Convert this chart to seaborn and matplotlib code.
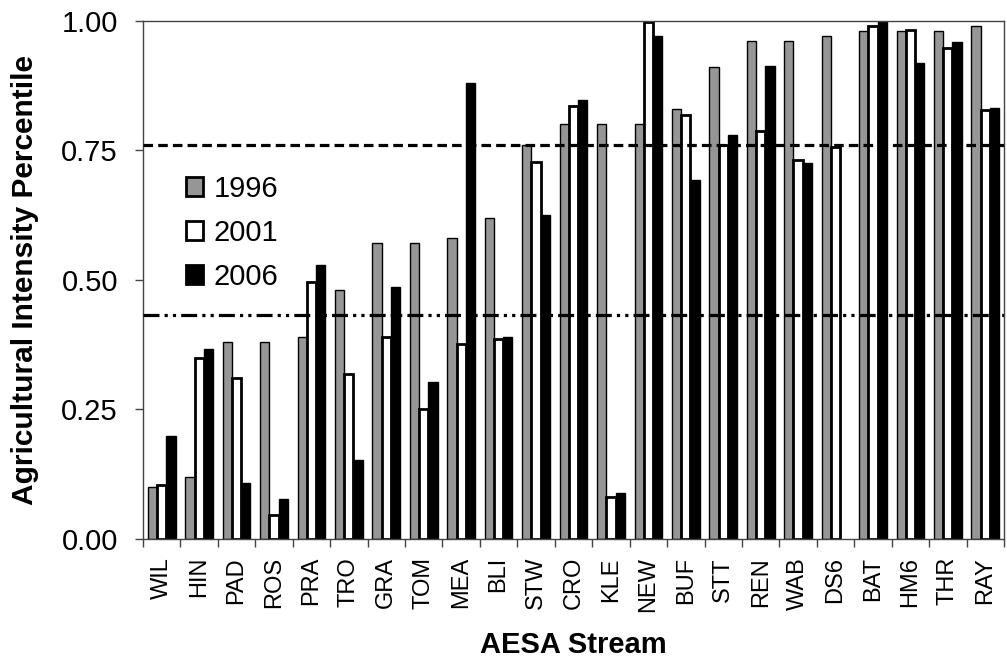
import pandas as pd
import seaborn as sns
import numpy as np
import matplotlib.pyplot as plt
from matplotlib.ticker import FixedLocator

streams = ['WIL', 'HIN', 'PAD', 'ROS', 'PRA', 'TRO', 'GRA', 'TOM', 'MEA', 'BLI', 'STW', 'CRO',
           'KLE', 'NEW', 'BUF', 'STT', 'REN', 'WAB', 'DS6', 'BAT', 'HM6', 'THR', 'RAY']
y1996 = [0.10, 0.12, 0.38, 0.38, 0.39, 0.48, 0.57, 0.57, 0.58, 0.62, 0.76, 0.80,
         0.80, 0.80, 0.83, 0.91, 0.96, 0.96, 0.97, 0.98, 0.98, 0.98, 0.99]
y2001 = [0.105, 0.35, 0.31, 0.047, 0.495, 0.318, 0.389, 0.251, 0.377, 0.385, 0.727, 0.835,
         0.082, 0.998, 0.817, 0.76, 0.787, 0.731, 0.757, 0.99, 0.981, 0.948, 0.827]
y2006 = [0.198, 0.367, 0.108, 0.078, 0.528, 0.153, 0.486, 0.302, 0.88, 0.389, 0.625, 0.846,
         0.089, 0.971, 0.692, 0.779, 0.913, 0.726, np.nan, 0.999, 0.918, 0.958, 0.831]
years = ['1996', '2001', '2006']
upper_line = 0.76
lower_line = 0.432

df = pd.DataFrame({'Stream': streams, '1996': y1996, '2001': y2001, '2006': y2006})
df = df.melt(id_vars='Stream', var_name='Year', value_name='Percentile')

sns.set_style('white')
plt.rcParams['font.family'] = ['Liberation Sans', 'DejaVu Sans']
plt.rcParams['text.color'] = 'black'
plt.rcParams['axes.labelcolor'] = 'black'
plt.rcParams['xtick.color'] = 'black'
plt.rcParams['ytick.color'] = 'black'

fig, ax = plt.subplots(figsize=(10.07, 6.63), dpi=100)
fig.subplots_adjust(left=0.142, right=0.997, top=0.969, bottom=0.187)

pal = {'1996': '#969696', '2001': 'white', '2006': 'black'}
sns.barplot(df, x='Stream', y='Percentile', hue='Year', hue_order=years, palette=pal,
            width=0.74, gap=0, edgecolor='black', linewidth=1.0, saturation=1, ax=ax)

# thicker outline on the open bars
for patch in ax.containers[1]:
    patch.set_linewidth(2.0)

ax.set_xlim(-0.5, len(streams) - 0.5)
ax.set_ylim(0, 1.0)
ax.axhline(upper_line, color='black', lw=2.3, ls=(0, (3, 1.6)), zorder=5)
ax.axhline(lower_line, color='black', lw=2.3, ls=(0, (5, 1.6, 1, 1.6, 1, 1.6)), zorder=5)

ax.set_yticks([0, 0.25, 0.5, 0.75, 1.0])
ax.set_yticklabels(['0.00', '0.25', '0.50', '0.75', '1.00'], fontsize=21)
ax.tick_params(axis='y', which='major', left=True, length=6, width=1, color='#444444', pad=12)
ax.set_xticks(range(len(streams)))
ax.set_xticklabels(streams, rotation=90, fontsize=17)
ax.tick_params(axis='x', which='major', bottom=False, length=0, pad=13)
ax.xaxis.set_minor_locator(FixedLocator(np.arange(-0.5, len(streams), 1.0)))
ax.tick_params(axis='x', which='minor', bottom=True, length=6, width=1, color='#444444')

for s in ax.spines.values():
    s.set_color('#444444')
    s.set_linewidth(1.0)

ax.set_xlabel('AESA Stream', fontsize=21, fontweight='bold', labelpad=14)
ax.set_ylabel('Agricultural Intensity Percentile', fontsize=21.5, fontweight='bold', labelpad=16)

leg = ax.legend(loc='upper left', bbox_to_anchor=(0.036, 0.725), frameon=False, fontsize=21,
                handlelength=0.6, handleheight=0.6, handletextpad=0.35, labelspacing=0.55,
                borderaxespad=0)
for h in leg.legend_handles:
    h.set_linewidth(2.0)
    h.set_edgecolor('black')

fig.savefig('out.png', dpi=100)
